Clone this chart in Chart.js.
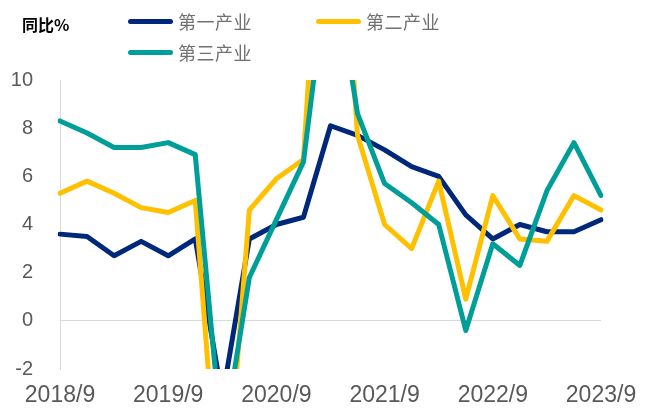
<!DOCTYPE html>
<html><head><meta charset="utf-8">
<script src="https://cdn.jsdelivr.net/npm/chart.js@4/dist/chart.umd.min.js"></script>
<style>
html,body{margin:0;padding:0;background:#fff;}
#wrap{position:relative;width:650px;height:412px;overflow:hidden;}
canvas{position:absolute;left:0;top:0;}
.t{position:absolute;font-family:"Noto Sans CJK SC",sans-serif;white-space:nowrap;}
.sw{position:absolute;height:5px;border-radius:3px;}
</style></head><body>
<div id="wrap">
<canvas id="c" width="650" height="412"></canvas>
<div class="t" id="title" style="left:22px;top:12px;font-size:16px;line-height:24px;font-weight:bold;color:#000;">同比%</div>
<div id="legend"></div>
</div>
<script>
// Data (quarterly, year-on-year %)
const categories = ['2018/9','2018/12','2019/3','2019/6','2019/9','2019/12','2020/3','2020/6','2020/9','2020/12',
  '2021/3','2021/6','2021/9','2021/12','2022/3','2022/6','2022/9','2022/12','2023/3','2023/6','2023/9'];
const seriesNames = ['第一产业','第二产业','第三产业'];
const primary   = [3.6, 3.5, 2.7, 3.3, 2.7, 3.4, -3.2, 3.4, 4.0, 4.3, 8.1, 7.7, 7.1, 6.4, 6.0, 4.4, 3.4, 4.0, 3.7, 3.7, 4.2];
const secondary = [5.3, 5.8, 5.3, 4.7, 4.5, 5.0, -9.6, 4.6, 5.9, 6.7, 24.4, 7.7, 4.0, 3.0, 5.8, 0.9, 5.2, 3.4, 3.3, 5.2, 4.6];
const tertiary  = [8.3, 7.8, 7.2, 7.2, 7.4, 6.9, -5.2, 1.8, 4.2, 6.6, 15.6, 8.6, 5.7, 4.9, 4.0, -0.4, 3.2, 2.3, 5.4, 7.4, 5.2];
const yTicksMin = -2, yTicksMax = 10, yTickStep = 2;

const colors = ['#00287A', '#FFC000', '#009E99'];
const values = [primary, secondary, tertiary];

// HTML legend
const legendPos = [{x:128,y:21},{x:316,y:21},{x:128,y:52}];
const lg = document.getElementById('legend');
seriesNames.forEach((n,i)=>{
  const p = legendPos[i];
  const s = document.createElement('div');
  s.className='sw'; s.style.left=p.x+'px'; s.style.top=(p.y-2.5)+'px'; s.style.width='45px'; s.style.background=colors[i];
  lg.appendChild(s);
  const t = document.createElement('div');
  t.className='t'; t.textContent=n;
  t.style.left=(p.x+50)+'px'; t.style.top=(p.y-13)+'px'; t.style.fontSize='18px'; t.style.lineHeight='26px';
  t.style.color='#707070'; t.style.letterSpacing='0.5px';
  lg.appendChild(t);
});

new Chart(document.getElementById('c'), {
  type:'line',
  data:{
    labels:categories,
    datasets: seriesNames.map((n,i)=>({
      label:n, data:values[i], borderColor:colors[i], backgroundColor:colors[i],
      borderWidth:5, tension:0, pointRadius:0, fill:false,
      borderCapStyle:'round', borderJoinStyle:'round', order: 2-i
    }))
  },
  options:{
    responsive:false, animation:false,
    layout:{padding:{top:80,right:49,left:0,bottom:0}},
    plugins:{legend:{display:false}, tooltip:{enabled:false}},
    scales:{
      x:{
        grid:{display:false, drawTicks:false}, border:{display:false},
        ticks:{autoSkip:false, maxRotation:0, minRotation:0, padding:13, color:'#595959',
          font:{family:'Liberation Sans', size:23},
          callback:function(v,i){return i%4===0 ? this.getLabelForValue(v) : '';}},
        afterFit(a){a.height=43;}
      },
      y:{
        min:yTicksMin, max:yTicksMax,
        ticks:{stepSize:yTickStep, padding:27, color:'#595959', font:{family:'Liberation Sans', size:20}},
        grid:{drawTicks:false, lineWidth:1,
          color:c=>(c.tick && c.tick.value===0) ? '#d9d9d9' : 'rgba(0,0,0,0)'},
        border:{display:true, color:'#d9d9d9', width:1},
        afterFit(a){a.width=60;}
      }
    }
  }
});
</script>
</body></html>
